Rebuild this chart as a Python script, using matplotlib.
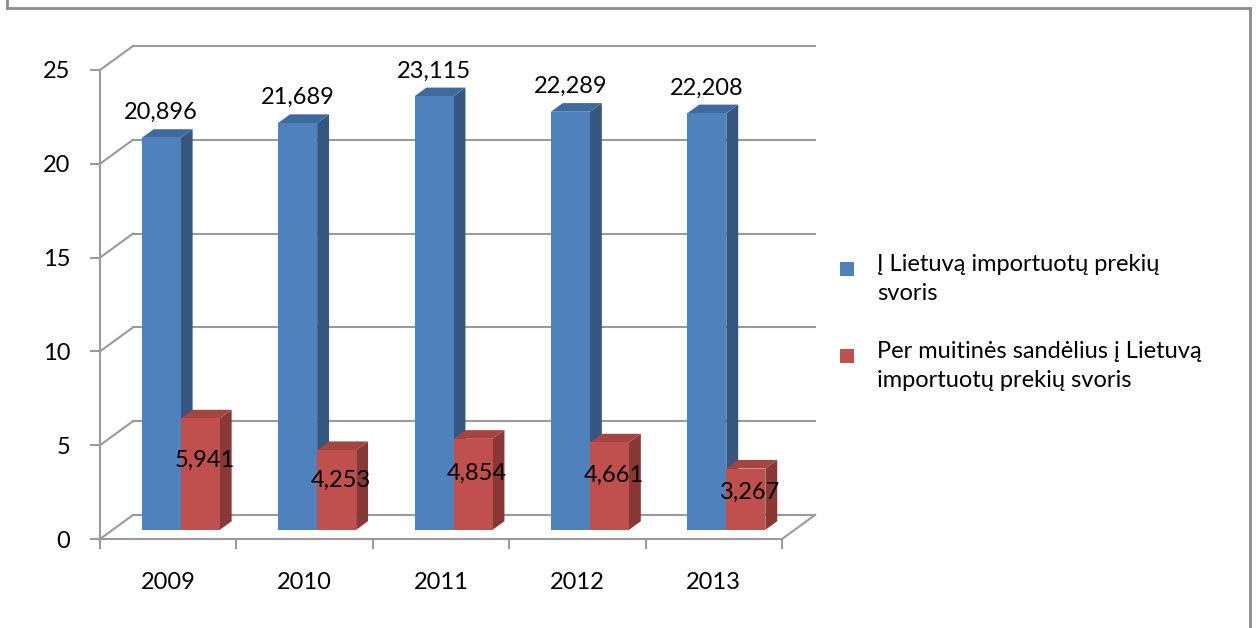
import numpy as np
import matplotlib.pyplot as plt
from matplotlib.patches import Polygon, Rectangle
from matplotlib.lines import Line2D

plt.rcParams['font.family'] = ['Lato', 'DejaVu Sans']

years = ['2009', '2010', '2011', '2012', '2013']
imported = [20.896, 21.689, 23.115, 22.289, 22.208]
via_warehouses = [5.941, 4.253, 4.854, 4.661, 3.267]
series_names = ['Į Lietuvą importuotų prekių\nsvoris',
                'Per muitinės sandėlius į Lietuvą\nimportuotų prekių svoris']
y_ticks = [0, 5, 10, 15, 20, 25]

# colours: front face, side face, top face
blue = ('#4f81bd', '#34567f', '#3f6a9f')
red = ('#c0504d', '#8a3836', '#a64440')
grid_col = '#9a9a9a'

# oblique "3D" depth offset of the back wall, in data units
DX, DY = 0.242, 1.28
z_front, z_back = 0.38, 0.74
bar_w = 0.286

fig = plt.figure(figsize=(12.57, 6.28), dpi=100)
W, H = 1257, 628
ax = fig.add_axes([100 / W, (H - 539) / H, 682 / W, 469 / H])
ax.set_xlim(-0.5, 4.5)
ax.set_ylim(0, 25)
ax.patch.set_visible(False)
for s in ('top', 'right'):
    ax.spines[s].set_visible(False)
for s in ('left', 'bottom'):
    ax.spines[s].set_color(grid_col)
    ax.spines[s].set_linewidth(1.5)

ax.set_yticks(y_ticks)
ax.tick_params(axis='y', length=7.5, width=1.5, color=grid_col, pad=14,
               labelsize=17)
ax.set_xticks(np.arange(-0.5, 5, 1))
ax.set_xticklabels([])
ax.tick_params(axis='x', which='major', length=7.5, width=1.5, color=grid_col)
ax.set_xticks(np.arange(len(years)), minor=True)
ax.set_xticklabels(years, minor=True)
ax.tick_params(axis='x', which='minor', length=0, pad=24, labelsize=17)

# back wall gridlines and left wall diagonals
for v in y_ticks:
    ax.add_line(Line2D([-0.5 + DX, 4.5 + DX], [v + DY, v + DY],
                       color=grid_col, lw=1.5, clip_on=False, zorder=1))
    ax.add_line(Line2D([-0.5, -0.5 + DX], [v, v + DY],
                       color=grid_col, lw=1.5, clip_on=False, zorder=1))
# floor right edge
ax.add_line(Line2D([4.5, 4.5 + DX], [0, DY], color=grid_col, lw=1.5,
                   clip_on=False, zorder=1))


def bar3d(x0, v, cols):
    ox, oy = z_front * DX, z_front * DY
    dx, dy = (z_back - z_front) * DX, (z_back - z_front) * DY
    x0 = x0 + ox
    x1 = x0 + bar_w
    side = [(x1, oy), (x1, oy + v), (x1 + dx, oy + v + dy), (x1 + dx, oy + dy)]
    top = [(x0, oy + v), (x1, oy + v), (x1 + dx, oy + v + dy), (x0 + dx, oy + v + dy)]
    ax.add_patch(Polygon(side, closed=True, facecolor=cols[1], lw=0,
                         clip_on=False, zorder=2))
    ax.add_patch(Polygon(top, closed=True, facecolor=cols[2], lw=0,
                         clip_on=False, zorder=2))
    ax.bar(x0, v, width=bar_w, bottom=oy, align='edge', color=cols[0],
           lw=0, clip_on=False, zorder=2)
    return x0 + bar_w / 2, oy


for i in range(len(years)):
    cx, oy = bar3d(i - bar_w, imported[i], blue)
    ax.text(cx, oy + imported[i] + 1.35, f'{imported[i]:.3f}'.replace('.', ','),
            ha='center', va='center', fontsize=17, zorder=3)
    cx, oy = bar3d(i, via_warehouses[i], red)
    ax.text(cx + 0.03, oy + 0.62 * via_warehouses[i],
            f'{via_warehouses[i]:.3f}'.replace('.', ','),
            ha='center', va='center', fontsize=17, zorder=3)

# legend drawn beside the plot, squares aligned with first text line
for k, (name, cols) in enumerate(zip(series_names, (blue, red))):
    ytop = 1 - (262 + k * 87) / H
    fig.add_artist(Rectangle((840 / W, ytop - 14 / H), 14 / W, 14 / H,
                             transform=fig.transFigure, facecolor=cols[0],
                             lw=0))
    fig.text(877 / W, ytop + 8 / H, name, ha='left', va='top', fontsize=17,
             linespacing=1.45)

# outer chart border
for xs, ys in (([7, 7], [0, 8]), ([7, 1250], [8, 8]), ([1250, 1250], [8, 628])):
    fig.add_artist(Line2D([x / W for x in xs], [1 - y / H for y in ys],
                          transform=fig.transFigure, color='#8c8c8c', lw=2))

fig.savefig('out.png', dpi=100)
